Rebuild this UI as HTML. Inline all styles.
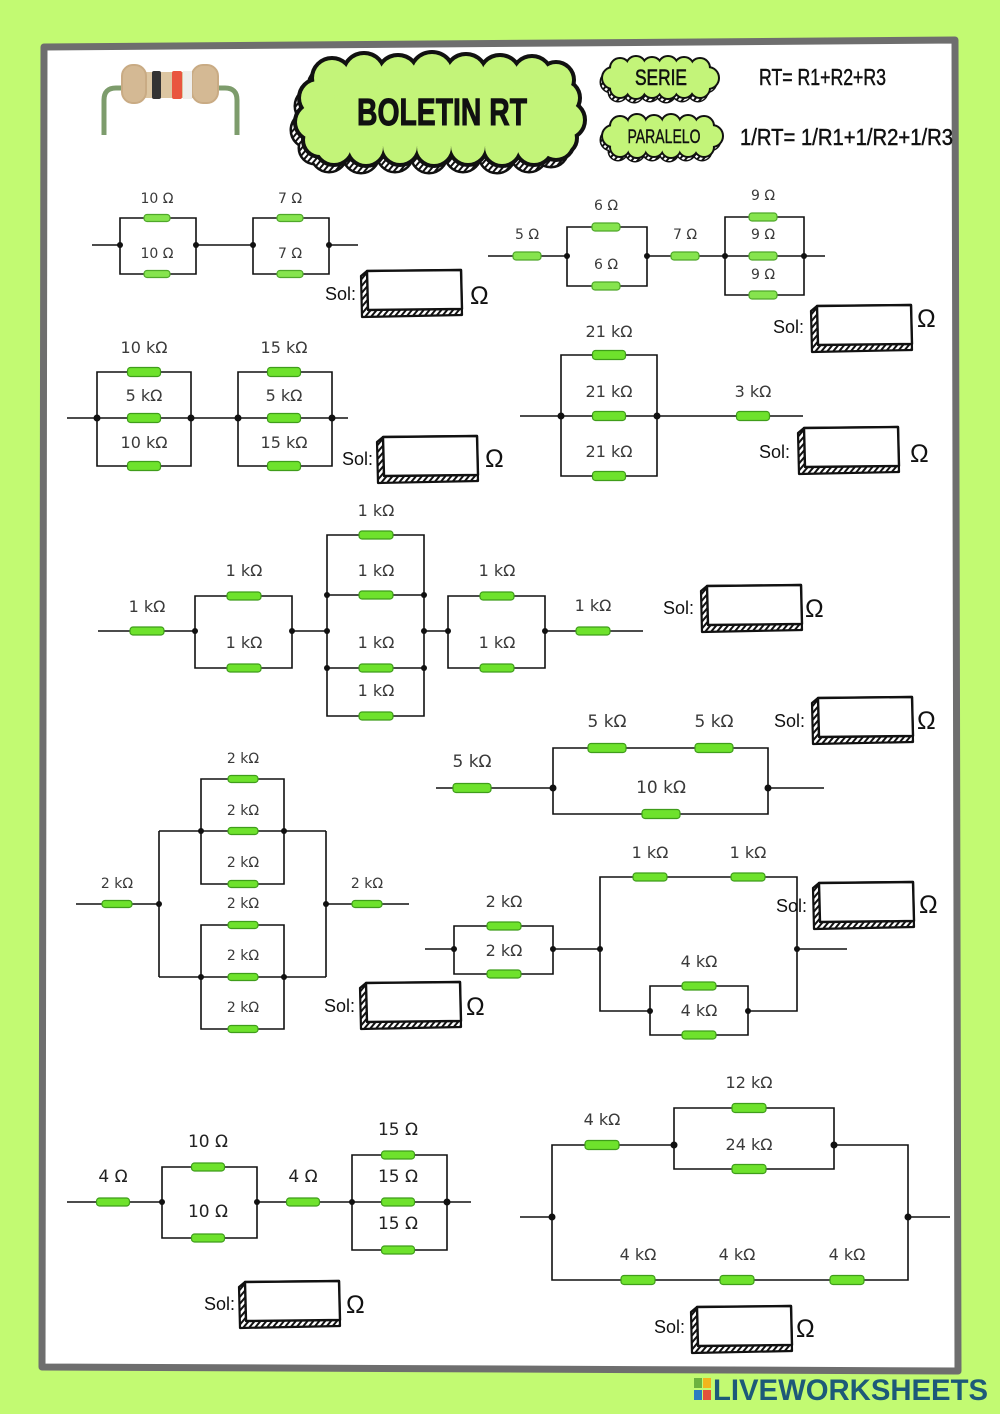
<!DOCTYPE html>
<html><head><meta charset="utf-8">
<style>
html,body{margin:0;padding:0;background:#c2fa72;}
svg{display:block;}
.w{fill:none;stroke:#111;stroke-width:1.6;}
.r{fill:#6ee22c;stroke:#3f9d1a;stroke-width:1.2;}
.r2{fill:#86e44e;stroke:#4fa82a;stroke-width:1.2;}
.n{fill:#111;}
.l{font-family:"DejaVu Sans","Liberation Sans",sans-serif;fill:#3a3a3a;text-anchor:middle;}
.s{font-family:"Liberation Sans",sans-serif;font-size:18px;fill:#111;}
.o{font-family:"Liberation Sans",sans-serif;font-size:25px;fill:#111;}
.h{font-family:"Liberation Sans",sans-serif;fill:#111;}
</style></head>
<body>
<svg width="1000" height="1414" viewBox="0 0 1000 1414" xmlns="http://www.w3.org/2000/svg">
<defs>
  <pattern id="hatch" width="4.5" height="4.5" patternUnits="userSpaceOnUse" patternTransform="rotate(40)">
    <rect width="4.5" height="4.5" fill="#fff"/><rect width="2" height="4.5" fill="#111"/>
  </pattern>
  <g id="solbox">
    <path d="M-6,5 L0,0 L94,-1 L95,44 L-5,46 Z" fill="url(#hatch)" stroke="#111" stroke-width="2.2" stroke-linejoin="round"/>
    <path d="M0,0 L94,-1 L95,38 L1,39 Z" fill="#fff" stroke="#111" stroke-width="2.4" stroke-linejoin="round"/>
  </g>
  <g id="cloudT">
    <rect x="318" y="76" width="244" height="70"/>
    <circle cx="332" cy="78" r="18"/><circle cx="364" cy="74" r="19"/><circle cx="398" cy="76" r="19"/><circle cx="432" cy="74" r="20"/><circle cx="466" cy="75" r="19"/><circle cx="500" cy="76" r="19"/><circle cx="532" cy="76" r="18"/><circle cx="556" cy="80" r="16"/>
    <circle cx="334" cy="146" r="17"/><circle cx="366" cy="147" r="17"/><circle cx="400" cy="146" r="17"/><circle cx="434" cy="147" r="17"/><circle cx="468" cy="146" r="17"/><circle cx="502" cy="147" r="17"/><circle cx="534" cy="146" r="17"/><circle cx="556" cy="142" r="16"/>
    <circle cx="318" cy="98" r="17"/><circle cx="314" cy="122" r="17"/><circle cx="320" cy="140" r="15"/>
    <circle cx="562" cy="98" r="16"/><circle cx="566" cy="120" r="17"/><circle cx="560" cy="138" r="15"/>
  </g>
  <g id="cloudS">
    <rect x="612" y="68" width="96" height="20"/>
    <circle cx="620" cy="68" r="9"/><circle cx="636" cy="66" r="9"/><circle cx="652" cy="67" r="9"/><circle cx="668" cy="66" r="9"/><circle cx="684" cy="67" r="9"/><circle cx="700" cy="68" r="9"/>
    <circle cx="620" cy="88" r="9"/><circle cx="636" cy="89" r="9"/><circle cx="652" cy="88" r="9"/><circle cx="668" cy="89" r="9"/><circle cx="684" cy="88" r="9"/><circle cx="700" cy="88" r="9"/>
    <circle cx="613" cy="78" r="10"/><circle cx="708" cy="78" r="10"/>
  </g>
  <g id="cloudP">
    <rect x="612" y="126" width="100" height="21"/>
    <circle cx="620" cy="126" r="9"/><circle cx="637" cy="124" r="9"/><circle cx="654" cy="125" r="9"/><circle cx="671" cy="124" r="9"/><circle cx="688" cy="125" r="9"/><circle cx="704" cy="126" r="9"/>
    <circle cx="620" cy="147" r="9"/><circle cx="637" cy="148" r="9"/><circle cx="654" cy="147" r="9"/><circle cx="671" cy="148" r="9"/><circle cx="688" cy="147" r="9"/><circle cx="704" cy="147" r="9"/>
    <circle cx="613" cy="136" r="10"/><circle cx="712" cy="136" r="10"/>
  </g>
</defs>

<!-- page frame -->
<path d="M44,47 L955,40 L958,1371 L42,1367 Z" fill="#fff" stroke="#6e6e6e" stroke-width="7" stroke-linejoin="round"/>

<!-- resistor icon -->
<path d="M104,135 V100 Q104,88 116,88 H130 M237,135 V100 Q237,88 225,88 H210" fill="none" stroke="#7d9c6c" stroke-width="5"/>
<rect x="140" y="72" width="56" height="26" fill="#dcc6a2"/>
<rect x="122" y="65" width="24" height="38" rx="11" fill="#d4b994" stroke="#c9ab84" stroke-width="2"/>
<rect x="192" y="65" width="26" height="38" rx="11" fill="#d4b994" stroke="#c9ab84" stroke-width="2"/>
<rect x="152" y="71" width="9" height="28" rx="2" fill="#333"/>
<rect x="172" y="71" width="10" height="28" rx="2" fill="#e9553f"/>
<rect x="183" y="71" width="9" height="28" fill="#eeeeec"/>

<!-- title cloud -->
<g transform="translate(-5,8)">
  <use href="#cloudT" fill="#111" stroke="#111" stroke-width="5"/>
  <use href="#cloudT" fill="url(#hatch)"/>
</g>
<use href="#cloudT" fill="#111" stroke="#111" stroke-width="8"/>
<use href="#cloudT" fill="#c3f479"/>
<text x="442" y="125" class="h" font-size="38" font-weight="bold" text-anchor="middle" textLength="170" lengthAdjust="spacingAndGlyphs" stroke="#111" stroke-width="1">BOLETIN RT</text>

<!-- SERIE cloud -->
<g transform="translate(-2,4)">
  <use href="#cloudS" fill="#111" stroke="#111" stroke-width="3"/>
  <use href="#cloudS" fill="url(#hatch)"/>
</g>
<use href="#cloudS" fill="#111" stroke="#111" stroke-width="4"/>
<use href="#cloudS" fill="#c3f479"/>
<text x="661" y="85" class="h" font-size="22" text-anchor="middle" textLength="52" lengthAdjust="spacingAndGlyphs" stroke="#111" stroke-width="0.6">SERIE</text>

<!-- PARALELO cloud -->
<g transform="translate(-2,4)">
  <use href="#cloudP" fill="#111" stroke="#111" stroke-width="3"/>
  <use href="#cloudP" fill="url(#hatch)"/>
</g>
<use href="#cloudP" fill="#111" stroke="#111" stroke-width="4"/>
<use href="#cloudP" fill="#c3f479"/>
<text x="664" y="143" class="h" font-size="19" text-anchor="middle" textLength="73" lengthAdjust="spacingAndGlyphs" stroke="#111" stroke-width="0.4">PARALELO</text>

<text x="759" y="85" class="h" font-size="23" textLength="127" lengthAdjust="spacingAndGlyphs" stroke="#111" stroke-width="0.5">RT= R1+R2+R3</text>
<text x="740" y="145" class="h" font-size="23" textLength="213" lengthAdjust="spacingAndGlyphs" stroke="#111" stroke-width="0.5">1/RT= 1/R1+1/R2+1/R3</text>

<!-- ===== Circuit 1 ===== -->
<path class="w" d="M92,245 H120 M120,218 H196 V274 H120 Z M196,245 H253 M253,218 H329 V274 H253 Z M329,245 H358"/>
<g class="r2">
<rect x="144" y="214.5" width="26" height="7" rx="3"/><rect x="144" y="270.5" width="26" height="7" rx="3"/>
<rect x="277" y="214.5" width="26" height="7" rx="3"/><rect x="277" y="270.5" width="26" height="7" rx="3"/>
</g>
<g class="n"><circle cx="120" cy="245" r="3"/><circle cx="196" cy="245" r="3"/><circle cx="253" cy="245" r="3"/><circle cx="329" cy="245" r="3"/></g>
<g class="l" font-size="14"><text x="157" y="203">10 Ω</text><text x="157" y="258">10 Ω</text><text x="290" y="203">7 Ω</text><text x="290" y="258">7 Ω</text></g>
<text x="325" y="300" class="s">Sol:</text><use href="#solbox" transform="translate(367,271)"/><text x="470" y="304" class="o">Ω</text>

<!-- ===== Circuit 2 ===== -->
<path class="w" d="M488,256 H567 M567,227 H647 V286 H567 Z M647,256 H725 M725,217 H804 V295 H725 Z M725,256 H825"/>
<g class="r2">
<rect x="513" y="252" width="28" height="8" rx="3"/>
<rect x="592" y="223" width="28" height="8" rx="3"/><rect x="592" y="282" width="28" height="8" rx="3"/>
<rect x="671" y="252" width="28" height="8" rx="3"/>
<rect x="749" y="213" width="28" height="8" rx="3"/><rect x="749" y="252" width="28" height="8" rx="3"/><rect x="749" y="291" width="28" height="8" rx="3"/>
</g>
<g class="n"><circle cx="567" cy="256" r="3"/><circle cx="647" cy="256" r="3"/><circle cx="725" cy="256" r="3"/><circle cx="804" cy="256" r="3"/></g>
<g class="l" font-size="14"><text x="527" y="239">5 Ω</text><text x="606" y="210">6 Ω</text><text x="606" y="269">6 Ω</text><text x="685" y="239">7 Ω</text><text x="763" y="200">9 Ω</text><text x="763" y="239">9 Ω</text><text x="763" y="279">9 Ω</text></g>
<text x="773" y="333" class="s">Sol:</text><use href="#solbox" transform="translate(817,306)"/><text x="917" y="327" class="o">Ω</text>

<!-- ===== Circuit 3 ===== -->
<path class="w" d="M67,418 H348 M97,372 H191 V466 H97 Z M238,372 H332 V466 H238 Z"/>
<g class="r">
<rect x="127.5" y="367.5" width="33" height="9" rx="3"/><rect x="127.5" y="413.5" width="33" height="9" rx="3"/><rect x="127.5" y="461.5" width="33" height="9" rx="3"/>
<rect x="267.5" y="367.5" width="33" height="9" rx="3"/><rect x="267.5" y="413.5" width="33" height="9" rx="3"/><rect x="267.5" y="461.5" width="33" height="9" rx="3"/>
</g>
<g class="n"><circle cx="97" cy="418" r="3.5"/><circle cx="191" cy="418" r="3.5"/><circle cx="238" cy="418" r="3.5"/><circle cx="332" cy="418" r="3.5"/></g>
<g class="l" font-size="16"><text x="144" y="353">10 kΩ</text><text x="144" y="401">5 kΩ</text><text x="144" y="448">10 kΩ</text><text x="284" y="353">15 kΩ</text><text x="284" y="401">5 kΩ</text><text x="284" y="448">15 kΩ</text></g>
<text x="342" y="465" class="s">Sol:</text><use href="#solbox" transform="translate(383,437)"/><text x="485" y="467" class="o">Ω</text>

<!-- ===== Circuit 4 ===== -->
<path class="w" d="M520,416 H803 M561,355 H657 V476 H561 Z"/>
<g class="r">
<rect x="592.5" y="350.5" width="33" height="9" rx="3"/><rect x="592.5" y="411.5" width="33" height="9" rx="3"/><rect x="592.5" y="471.5" width="33" height="9" rx="3"/>
<rect x="736.5" y="411.5" width="33" height="9" rx="3"/>
</g>
<g class="n"><circle cx="561" cy="416" r="3.5"/><circle cx="657" cy="416" r="3.5"/></g>
<g class="l" font-size="16"><text x="609" y="337">21 kΩ</text><text x="609" y="397">21 kΩ</text><text x="609" y="457">21 kΩ</text><text x="753" y="397">3 kΩ</text></g>
<text x="759" y="458" class="s">Sol:</text><use href="#solbox" transform="translate(804,428)"/><text x="910" y="462" class="o">Ω</text>

<!-- ===== Circuit 5 ===== -->
<path class="w" d="M98,631 H195 M195,596 H292 V668 H195 Z M292,631 H327 M327,535 H424 V716 H327 Z M327,595 H424 M327,668 H424 M424,631 H448 M448,596 H545 V668 H448 Z M545,631 H643"/>
<g class="r">
<rect x="130" y="627" width="34" height="8" rx="3"/>
<rect x="227" y="592" width="34" height="8" rx="3"/><rect x="227" y="664" width="34" height="8" rx="3"/>
<rect x="359" y="531" width="34" height="8" rx="3"/><rect x="359" y="591" width="34" height="8" rx="3"/><rect x="359" y="664" width="34" height="8" rx="3"/><rect x="359" y="712" width="34" height="8" rx="3"/>
<rect x="480" y="592" width="34" height="8" rx="3"/><rect x="480" y="664" width="34" height="8" rx="3"/>
<rect x="576" y="627" width="34" height="8" rx="3"/>
</g>
<g class="n"><circle cx="195" cy="631" r="3"/><circle cx="292" cy="631" r="3"/><circle cx="327" cy="595" r="3"/><circle cx="327" cy="631" r="3"/><circle cx="327" cy="668" r="3"/><circle cx="424" cy="595" r="3"/><circle cx="424" cy="631" r="3"/><circle cx="424" cy="668" r="3"/><circle cx="448" cy="631" r="3"/><circle cx="545" cy="631" r="3"/></g>
<g class="l" font-size="16"><text x="147" y="612">1 kΩ</text><text x="244" y="576">1 kΩ</text><text x="244" y="648">1 kΩ</text><text x="376" y="516">1 kΩ</text><text x="376" y="576">1 kΩ</text><text x="376" y="648">1 kΩ</text><text x="376" y="696">1 kΩ</text><text x="497" y="576">1 kΩ</text><text x="497" y="648">1 kΩ</text><text x="593" y="611">1 kΩ</text></g>
<text x="663" y="614" class="s">Sol:</text><use href="#solbox" transform="translate(707,586)"/><text x="805" y="617" class="o">Ω</text>

<!-- ===== Circuit 6 ===== -->
<path class="w" d="M436,788 H553 M553,748 H768 V814 H553 Z M768,788 H824"/>
<g class="r">
<rect x="453" y="783.5" width="38" height="9" rx="3"/>
<rect x="588" y="743.5" width="38" height="9" rx="3"/><rect x="695" y="743.5" width="38" height="9" rx="3"/>
<rect x="642" y="809.5" width="38" height="9" rx="3"/>
</g>
<g class="n"><circle cx="553" cy="788" r="3.5"/><circle cx="768" cy="788" r="3.5"/></g>
<g class="l" font-size="17"><text x="472" y="767">5 kΩ</text><text x="607" y="727">5 kΩ</text><text x="714" y="727">5 kΩ</text><text x="661" y="793">10 kΩ</text></g>
<text x="774" y="727" class="s">Sol:</text><use href="#solbox" transform="translate(818,698)"/><text x="917" y="729" class="o">Ω</text>

<!-- ===== Circuit 7 ===== -->
<path class="w" d="M76,904 H159 M159,831 V977 M159,831 H201 M284,831 H326 M326,831 V977 M159,977 H201 M284,977 H326 M326,904 H409 M201,779 H284 V884 H201 Z M201,831 H284 M201,925 H284 V1029 H201 Z M201,977 H284"/>
<g class="r">
<rect x="102" y="900.5" width="30" height="7" rx="3"/>
<rect x="228" y="775.5" width="30" height="7" rx="3"/><rect x="228" y="827.5" width="30" height="7" rx="3"/><rect x="228" y="880.5" width="30" height="7" rx="3"/>
<rect x="228" y="921.5" width="30" height="7" rx="3"/><rect x="228" y="973.5" width="30" height="7" rx="3"/><rect x="228" y="1025.5" width="30" height="7" rx="3"/>
<rect x="352" y="900.5" width="30" height="7" rx="3"/>
</g>
<g class="n"><circle cx="159" cy="904" r="3"/><circle cx="326" cy="904" r="3"/><circle cx="201" cy="831" r="3"/><circle cx="284" cy="831" r="3"/><circle cx="201" cy="977" r="3"/><circle cx="284" cy="977" r="3"/></g>
<g class="l" font-size="14"><text x="117" y="888">2 kΩ</text><text x="243" y="763">2 kΩ</text><text x="243" y="815">2 kΩ</text><text x="243" y="867">2 kΩ</text><text x="243" y="908">2 kΩ</text><text x="243" y="960">2 kΩ</text><text x="243" y="1012">2 kΩ</text><text x="367" y="888">2 kΩ</text></g>
<text x="324" y="1012" class="s">Sol:</text><use href="#solbox" transform="translate(366,983)"/><text x="466" y="1015" class="o">Ω</text>

<!-- ===== Circuit 8 ===== -->
<path class="w" d="M425,949 H454 M454,926 H553 V974 H454 Z M553,949 H600 M650,1011 H600 V877 H797 V1011 H748 M797,949 H847 M650,986 H748 V1035 H650 Z"/>
<g class="r">
<rect x="487" y="922" width="34" height="8" rx="3"/><rect x="487" y="970" width="34" height="8" rx="3"/>
<rect x="633" y="873" width="34" height="8" rx="3"/><rect x="731" y="873" width="34" height="8" rx="3"/>
<rect x="682" y="982" width="34" height="8" rx="3"/><rect x="682" y="1031" width="34" height="8" rx="3"/>
</g>
<g class="n"><circle cx="454" cy="949" r="3"/><circle cx="553" cy="949" r="3"/><circle cx="600" cy="949" r="3"/><circle cx="797" cy="949" r="3"/><circle cx="650" cy="1011" r="3"/><circle cx="748" cy="1011" r="3"/></g>
<g class="l" font-size="16"><text x="504" y="907">2 kΩ</text><text x="504" y="956">2 kΩ</text><text x="650" y="858">1 kΩ</text><text x="748" y="858">1 kΩ</text><text x="699" y="967">4 kΩ</text><text x="699" y="1016">4 kΩ</text></g>
<use href="#solbox" transform="translate(819,883)"/><text x="776" y="912" class="s">Sol:</text><text x="919" y="913" class="o">Ω</text>

<!-- ===== Circuit 9 ===== -->
<path class="w" d="M67,1202 H162 M257,1202 H471 M162,1167 H257 V1238 H162 Z M352,1155 H447 V1250 H352 Z"/>
<g class="r">
<rect x="96.5" y="1198" width="33" height="8" rx="3"/>
<rect x="191.5" y="1163" width="33" height="8" rx="3"/><rect x="191.5" y="1234" width="33" height="8" rx="3"/>
<rect x="286.5" y="1198" width="33" height="8" rx="3"/>
<rect x="381.5" y="1151" width="33" height="8" rx="3"/><rect x="381.5" y="1198" width="33" height="8" rx="3"/><rect x="381.5" y="1246" width="33" height="8" rx="3"/>
</g>
<g class="n"><circle cx="162" cy="1202" r="3"/><circle cx="257" cy="1202" r="3"/><circle cx="352" cy="1202" r="3"/><circle cx="447" cy="1202" r="3.5"/></g>
<g class="l" font-size="17" style="fill:#222"><text x="113" y="1182">4 Ω</text><text x="303" y="1182">4 Ω</text><text x="208" y="1147">10 Ω</text><text x="208" y="1217">10 Ω</text><text x="398" y="1135">15 Ω</text><text x="398" y="1182">15 Ω</text><text x="398" y="1229">15 Ω</text></g>
<text x="204" y="1310" class="s">Sol:</text><use href="#solbox" transform="translate(245,1282)"/><text x="346" y="1313" class="o">Ω</text>

<!-- ===== Circuit 10 ===== -->
<path class="w" d="M520,1217 H552 M674,1145 H552 V1280 H908 V1145 H834 M674,1108 H834 V1169 H674 Z M908,1217 H950"/>
<g class="r">
<rect x="585" y="1140.5" width="34" height="9" rx="3"/>
<rect x="732" y="1103.5" width="34" height="9" rx="3"/><rect x="732" y="1164.5" width="34" height="9" rx="3"/>
<rect x="621" y="1275.5" width="34" height="9" rx="3"/><rect x="720" y="1275.5" width="34" height="9" rx="3"/><rect x="830" y="1275.5" width="34" height="9" rx="3"/>
</g>
<g class="n"><circle cx="552" cy="1217" r="3.5"/><circle cx="908" cy="1217" r="3.5"/><circle cx="674" cy="1145" r="3.5"/><circle cx="834" cy="1145" r="3.5"/></g>
<g class="l" font-size="16"><text x="602" y="1125">4 kΩ</text><text x="749" y="1088">12 kΩ</text><text x="749" y="1150">24 kΩ</text><text x="638" y="1260">4 kΩ</text><text x="737" y="1260">4 kΩ</text><text x="847" y="1260">4 kΩ</text></g>
<text x="654" y="1333" class="s">Sol:</text><use href="#solbox" transform="translate(697,1307)"/><text x="796" y="1337" class="o">Ω</text>

<!-- footer logo -->
<rect x="694" y="1378" width="8" height="10" fill="#6cb33f"/>
<rect x="703" y="1378" width="8" height="10" fill="#f2b51c"/>
<rect x="694" y="1390" width="8" height="10" fill="#2b7cc0"/>
<rect x="703" y="1390" width="8" height="10" fill="#e4513b"/>
<text x="713" y="1400" font-family="Liberation Sans, sans-serif" font-weight="bold" font-size="30" fill="#1d5a78" textLength="275" lengthAdjust="spacingAndGlyphs">LIVEWORKSHEETS</text>
</svg>
</body></html>
